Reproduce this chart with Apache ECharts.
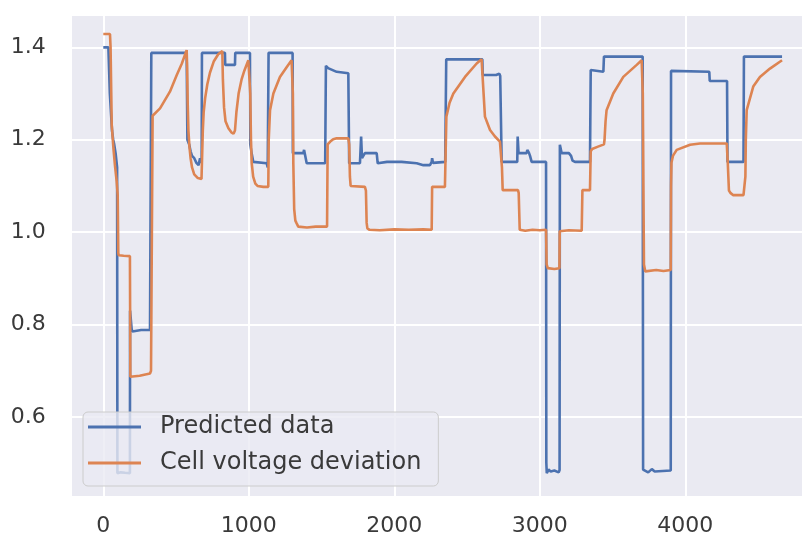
<!DOCTYPE html>
<html>
<head>
<meta charset="utf-8">
<script src="https://cdn.jsdelivr.net/npm/echarts@6/dist/echarts.min.js"></script>
<style>
  html, body { margin: 0; padding: 0; background: #ffffff; }
  #chart { width: 803px; height: 538px; }
</style>
</head>
<body>
<div id="chart"></div>
<script>
// Predicted data: time (s) and value
const predT = [0, 35, 45, 60, 68, 75, 85, 95, 97, 120, 150, 183, 184, 195, 200, 260, 321, 328, 330,
  573, 576, 578, 590, 600, 610, 625, 640, 655, 665, 676, 678, 836, 838, 905, 907, 1008, 1010, 1020,
  1031, 1123, 1130, 1134, 1136, 1301, 1303, 1375, 1380, 1390, 1398, 1525, 1530, 1545, 1604, 1684,
  1688, 1690, 1764, 1772, 1778, 1787, 1798, 1879, 1886, 1950, 2050, 2154, 2200, 2245, 2257, 2260,
  2266, 2350, 2354, 2357, 2605, 2608, 2700, 2722, 2728, 2735, 2738, 2845, 2848, 2854, 2910, 2914,
  2925, 2933, 2944, 3043, 3045, 3048, 3060, 3075, 3100, 3130, 3136, 3138, 3140, 3150, 3200, 3215,
  3225, 3242, 3345, 3350, 3360, 3437, 3441, 3707, 3710, 3720, 3745, 3770, 3790, 3900, 3902, 3910,
  4165, 4168, 4287, 4290, 4400, 4403, 4665];
const predV = [1.400, 1.400, 1.300, 1.220, 1.200, 1.190, 1.170, 1.140, 0.478, 0.480, 0.479, 0.478, 0.830, 0.790, 0.785, 0.788, 0.788, 0.788, 1.388,
  1.388, 1.388, 1.200, 1.190, 1.175, 1.165, 1.160, 1.150, 1.145, 1.160, 1.150, 1.388, 1.388, 1.362, 1.362, 1.388, 1.388, 1.190, 1.170,
  1.152, 1.149, 1.140, 1.140, 1.388, 1.388, 1.171, 1.171, 1.178, 1.175, 1.149, 1.149, 1.360, 1.355, 1.347, 1.344,
  1.344, 1.149, 1.149, 1.207, 1.160, 1.165, 1.171, 1.171, 1.149, 1.152, 1.152, 1.149, 1.145, 1.145, 1.152, 1.160,
  1.150, 1.152, 1.152, 1.374, 1.374, 1.340, 1.340, 1.343, 1.338, 1.338, 1.152, 1.152, 1.207, 1.171, 1.171, 1.178,
  1.172, 1.165, 1.152, 1.152, 0.500, 0.478, 0.486, 0.482, 0.484, 0.480, 0.485, 1.189, 1.185, 1.171, 1.171, 1.165,
  1.155, 1.152, 1.152, 1.351, 1.347, 1.347, 1.380, 1.380, 0.486, 0.490, 0.480, 0.487, 0.482, 0.484, 1.349, 1.347,
  1.347, 1.327, 1.327, 1.152, 1.152, 1.380, 1.380];

// Cell voltage deviation: time (s) and value
const cellT = [0, 46, 50, 58, 70, 80, 92, 99, 103, 106, 140, 183, 186, 195, 250, 321, 328, 339, 390, 458, 505, 540, 573,
  576, 580, 585, 592, 600, 610, 625, 650, 675, 680, 684, 690, 700, 715, 733, 760, 790, 818,
  822, 830, 840, 860, 880, 895, 905, 915, 930, 950, 970, 997, 1004, 1010, 1015, 1020, 1030, 1045, 1060, 1100, 1134,
  1137, 1146, 1169, 1214, 1260, 1294, 1301, 1303, 1306, 1312, 1320, 1329, 1340, 1400, 1460, 1538,
  1542, 1560, 1580, 1604, 1684, 1690, 1695, 1700, 1707, 1798, 1805, 1810, 1815, 1830, 1900, 2000, 2100, 2200, 2257,
  2260, 2348, 2352, 2358, 2380, 2406, 2486, 2566, 2600, 2607, 2623, 2658, 2692, 2726, 2740, 2745, 2850,
  2855, 2862, 2900, 2950, 3000, 3043, 3047, 3055, 3100, 3135, 3137, 3200, 3288, 3293, 3345, 3350, 3360, 3400, 3441,
  3445, 3452, 3459, 3505, 3574, 3666, 3700, 3705, 3708, 3712, 3716, 3725, 3800, 3850, 3900, 3902, 3905, 3915, 3941,
  4033, 4101, 4285, 4292, 4300, 4310, 4330, 4400, 4410, 4413, 4416, 4422, 4467, 4513, 4582, 4665];
const cellV = [1.429, 1.429, 1.400, 1.232, 1.180, 1.145, 1.110, 1.080, 0.955, 0.950, 0.949, 0.948, 0.687, 0.686, 0.689, 0.694, 0.700, 1.252, 1.268, 1.304, 1.340, 1.365, 1.394,
  1.360, 1.280, 1.220, 1.185, 1.160, 1.140, 1.125, 1.117, 1.115, 1.117, 1.220, 1.260, 1.290, 1.320, 1.345, 1.370, 1.385, 1.392,
  1.330, 1.270, 1.240, 1.225, 1.216, 1.213, 1.220, 1.260, 1.300, 1.330, 1.350, 1.372, 1.375, 1.300, 1.200, 1.150, 1.120, 1.105, 1.100, 1.098, 1.098,
  1.200, 1.264, 1.300, 1.336, 1.357, 1.372, 1.375, 1.300, 1.150, 1.050, 1.025, 1.019, 1.012, 1.010, 1.012, 1.012,
  1.190, 1.196, 1.201, 1.203, 1.203, 1.190, 1.120, 1.100, 1.098, 1.098, 1.090, 1.020, 1.008, 1.005, 1.004, 1.006, 1.005, 1.006, 1.005,
  1.098, 1.098, 1.100, 1.250, 1.280, 1.300, 1.336, 1.365, 1.374, 1.336, 1.250, 1.221, 1.207, 1.196, 1.140, 1.091, 1.091,
  1.085, 1.005, 1.003, 1.005, 1.004, 1.005, 0.930, 0.922, 0.920, 0.922, 1.002, 1.004, 1.003, 1.091, 1.091, 1.175, 1.180, 1.185, 1.190,
  1.200, 1.240, 1.264, 1.300, 1.336, 1.362, 1.372, 1.373, 1.300, 1.100, 0.930, 0.915, 0.918, 0.916, 0.918, 1.100, 1.150, 1.165, 1.178,
  1.189, 1.192, 1.192, 1.150, 1.090, 1.085, 1.080, 1.080, 1.082, 1.120, 1.200, 1.264, 1.315, 1.336, 1.354, 1.372];

const xTickValues = [0, 1000, 2000, 3000, 4000];
const yTickValues = [0.6, 0.8, 1.0, 1.2, 1.4];
const seriesNames = ['Predicted data', 'Cell voltage deviation'];

const zip = (ts, vs) => ts.map((t, i) => [t, vs[i]]);

const FONT = 'DejaVu Sans';
const chart = echarts.init(document.getElementById('chart'), null, { renderer: 'canvas' });

chart.setOption({
  animation: false,
  backgroundColor: '#ffffff',
  color: ['#4C72B0', '#DD8452'],
  grid: {
    left: 70.7, right: 0, top: 15, bottom: 41.3,
    show: true, backgroundColor: '#EAEAF2', borderWidth: 0
  },
  xAxis: {
    type: 'value',
    min: -224, max: 4809,
    splitNumber: 5,
    axisLine: { show: false },
    axisTick: { show: false },
    splitLine: { show: true, lineStyle: { color: '#ffffff', width: 2 } },
    axisLabel: {
      showMinLabel: false, showMaxLabel: false,
      margin: 19,
      fontFamily: FONT, fontSize: 22, color: '#3a3a3a',
      formatter: v => (xTickValues.includes(v) ? String(v) : '')
    }
  },
  yAxis: {
    type: 'value',
    min: 0.4273, max: 1.470,
    splitNumber: 5,
    axisLine: { show: false },
    axisTick: { show: false },
    splitLine: { show: true, lineStyle: { color: '#ffffff', width: 2 } },
    axisLabel: {
      showMinLabel: false, showMaxLabel: false,
      margin: 25,
      fontFamily: FONT, fontSize: 22, color: '#3a3a3a',
      formatter: v => {
        const hit = yTickValues.find(t => Math.abs(t - v) < 1e-6);
        return hit === undefined ? '' : hit.toFixed(1);
      }
    }
  },
  legend: {
    orient: 'vertical',
    left: 83, top: 412,
    padding: [3, 17, 11, 5],
    itemWidth: 53, itemHeight: 3,
    itemGap: 12,
    icon: 'rect',
    backgroundColor: 'rgba(234,234,242,0.8)',
    borderColor: '#cccccc', borderWidth: 1, borderRadius: 5,
    textStyle: {
      fontFamily: FONT, fontSize: 24, lineHeight: 24, color: '#3a3a3a',
      padding: [0, 0, 0, 14]
    },
    data: seriesNames
  },
  series: [
    {
      name: seriesNames[0], type: 'line',
      data: zip(predT, predV),
      showSymbol: false, symbol: 'none',
      lineStyle: { width: 2.6 },
      z: 2
    },
    {
      name: seriesNames[1], type: 'line',
      data: zip(cellT, cellV),
      showSymbol: false, symbol: 'none',
      lineStyle: { width: 2.6 },
      z: 3
    }
  ]
});
</script>
</body>
</html>
